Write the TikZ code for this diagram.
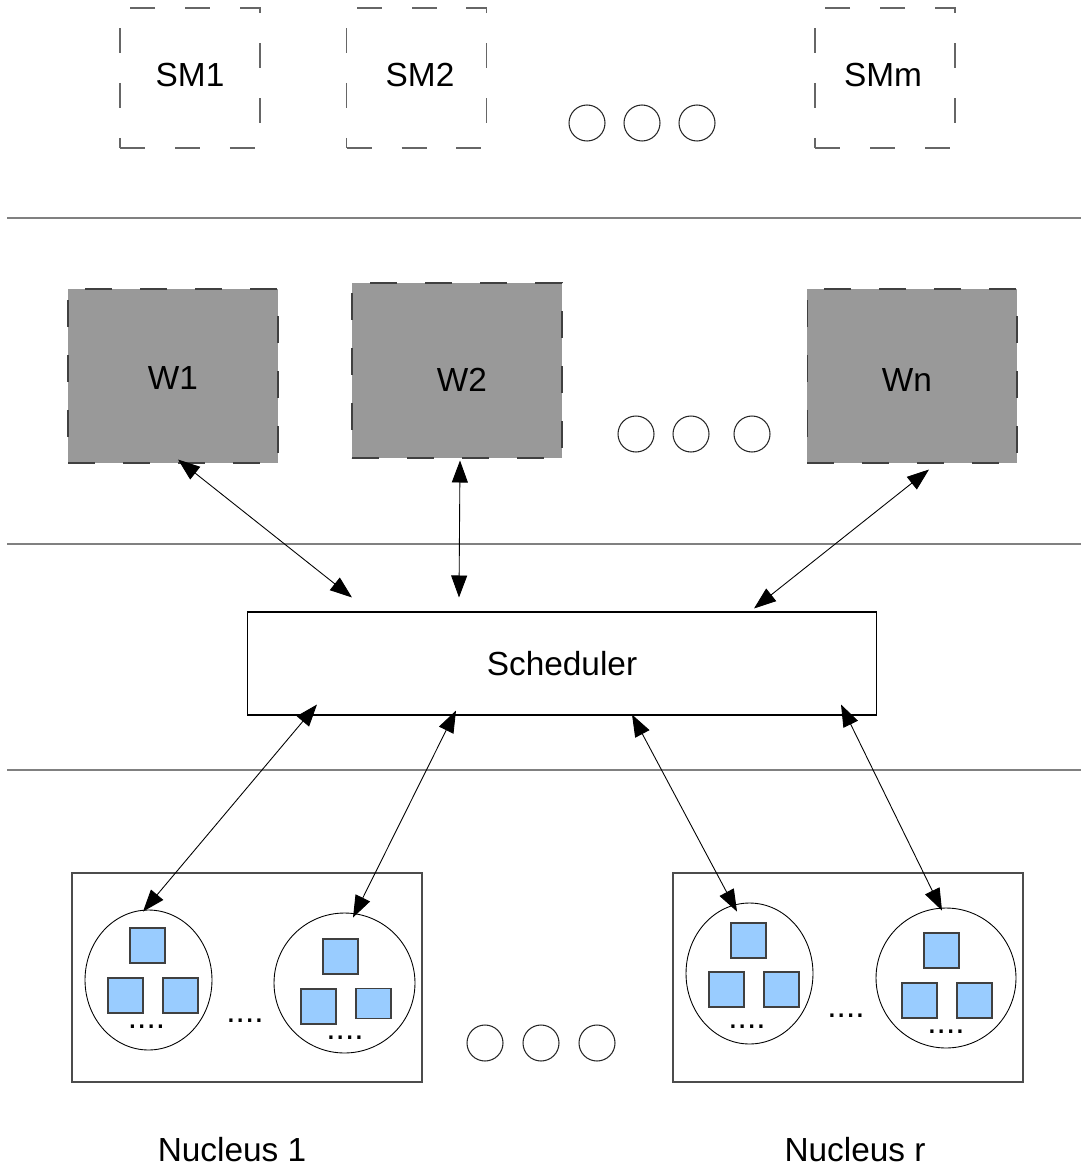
\documentclass[tikz,border=0pt]{standalone}
\usepackage{fontspec}
\setmainfont{Liberation Sans}
\usetikzlibrary{arrows.meta,shapes.geometric}
\definecolor{taskblue}{HTML}{99CCFF}

\begin{document}
\begin{tikzpicture}[x=0.02cm, y=-0.02cm, font=\fontsize{19}{23}\selectfont]
\tikzset{smbox/.style={draw=black!60, line width=0.6pt, dash pattern=on 0.5cm off 0.6cm, minimum width=2.8cm, minimum height=2.8cm, inner sep=0pt},
  wbox/.style={draw=black!75, fill=black!40, line width=0.6pt, dash pattern=on 0.54cm off 0.56cm, minimum width=4.2cm, minimum height=3.48cm, inner sep=0pt},
  schedbox/.style={draw, line width=0.6pt, minimum width=12.6cm, minimum height=2.06cm, inner sep=0pt},
  nucbox/.style={draw=black!70, line width=0.7pt, minimum width=7cm, minimum height=4.18cm, inner sep=0pt},
  core/.style={draw, ellipse, line width=0.5pt, inner sep=0pt},
  task/.style={draw=black!75, fill=taskblue, line width=0.6pt, minimum size=0.7cm, inner sep=0pt},
  dotcirc/.style={draw=black!85, circle, line width=0.6pt, minimum size=0.72cm, inner sep=0pt},
  dots/.style={anchor=base, inner sep=0pt},
  layer/.style={draw=black!50, line width=0.9pt},
  link/.style={<->, >={Triangle[length=0.44cm,width=0.32cm]}, line width=0.5pt}}
\useasboundingbox (0,0) rectangle (1081,1169);

% service managers
\node[smbox, label={[yshift=0.06cm]center:SM1}] (SM1) at (190,78) {};
\node[smbox, label={[shift={(0.07cm,0.06cm)}]center:SM2}] (SM2) at (416.5,78) {};
\node[smbox, label={[shift={(-0.04cm,0.06cm)}]center:SMm}] (SMm) at (885,78) {};
\node[dotcirc] (E1) at (587,123) {};
\node[dotcirc] (E2) at (642,123) {};
\node[dotcirc] (E3) at (697,123) {};

\draw[layer] (7,218) -- (1081,218);

% workers
\node[wbox, label={[yshift=-0.04cm]center:W1}] (W1) at (173,376) {};
\node[wbox, minimum height=3.5cm, label={[shift={(0.1cm,-0.19cm)}]center:W2}] (W2) at (457,370.5) {};
\node[wbox, label={[shift={(-0.1cm,-0.08cm)}]center:Wn}] (Wn) at (912,376) {};
\node[dotcirc] (E4) at (636,434) {};
\node[dotcirc] (E5) at (691,434) {};
\node[dotcirc] (E6) at (752,434) {};

\draw[layer] (7,544) -- (1081,544);

\node[schedbox] (S) at (562,663.5) {Scheduler};

\draw[layer] (7,770) -- (1081,770);

% nuclei
\node[nucbox] (N1) at (247,977.5) {};
\node[nucbox] (Nr) at (848,977.5) {};

\node[core, minimum width=2.54cm, minimum height=2.8cm] (C11) at (148.5,980) {};
\node[core, minimum width=2.82cm, minimum height=2.8cm] (C12) at (344.5,983) {};
\node[core, minimum width=2.54cm, minimum height=2.82cm] (C21) at (749.5,973.5) {};
\node[core, minimum width=2.8cm, minimum height=2.8cm] (C22) at (946,978) {};

\node[task] (T111) at (147.5,945.5) {};
\node[task] (T112) at (125.5,995.5) {};
\node[task] (T113) at (180.5,995.5) {};
\node[task] (T121) at (340.5,956.5) {};
\node[task] (T122) at (318.5,1006.5) {};
\node[task, minimum height=0.6cm] (T123) at (373.5,1003.5) {};
\node[task] (T211) at (748.5,940.5) {};
\node[task] (T212) at (726.5,989.5) {};
\node[task] (T213) at (781.5,989.5) {};
\node[task] (T221) at (941.5,950.5) {};
\node[task] (T222) at (919.5,1000.5) {};
\node[task] (T223) at (974.5,1000.5) {};

\node[dots] (D11) at (146.5,1028) {....};
\node[dots] (D12) at (345,1039) {....};
\node[dots] (D1) at (245,1022) {....};
\node[dots] (D21) at (747,1028) {....};
\node[dots] (D22) at (946,1033) {....};
\node[dots] (D2) at (846,1017) {....};

\node[dotcirc] (E7) at (485,1043) {};
\node[dotcirc] (E8) at (541,1043) {};
\node[dotcirc] (E9) at (597,1043) {};

\node (L1) at (232,1150) {Nucleus 1};
\node (Lr) at (855,1150) {Nucleus r};

% links to the scheduler
\draw[link] ([shift={(5,-4)}]W1.south) -- ([shift={(-210,-14)}]S.north);
\draw[link] ([shift={(3,2)}]W2.south) -- ([shift={(-103,-14)}]S.north);
\draw[link] ([shift={(17,6)}]Wn.south) -- ([shift={(192,-3)}]S.north);
\draw[link] ([shift={(-245,-11)}]S.south) -- ([shift={(-5.5,2)}]C11.north);
\draw[link] ([shift={(-106,-5)}]S.south) -- ([shift={(8.5,5)}]C12.north);
\draw[link] ([shift={(70,-1)}]S.south) -- ([shift={(-12.5,9)}]C21.north);
\draw[link] ([shift={(279,-11)}]S.south) -- ([shift={(-4,3)}]C22.north);
\end{tikzpicture}
\end{document}
